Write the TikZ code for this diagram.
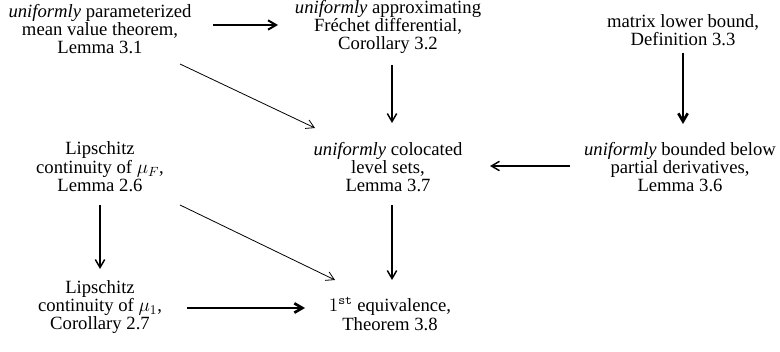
\documentclass[tikz,border=0pt]{standalone}
\usepackage{fontspec}
\setmainfont{Liberation Serif}
\usetikzlibrary{arrows.meta}
\begin{document}
\begin{tikzpicture}[x=0.75pt,y=-0.75pt,
  lbl/.style={align=center,inner sep=0pt,font=\fontsize{14}{13.8}\selectfont},
  arr/.style={-{Straight Barb[length=6pt,width=7pt]}},
  thinarr/.style={arr,line width=0.6pt},
  medarr/.style={arr,line width=1.1pt},
  thickarr/.style={arr,line width=2pt}]
\useasboundingbox (0,0) rectangle (780,352);
\node[lbl] (A) at (100,29) {\textit{uniformly} parameterized\\mean value theorem,\\Lemma 3.1};
\node[lbl] (B) at (388,27) {\textit{uniformly} approximating\\Fréchet differential,\\Corollary 3.2};
\node[lbl] (C) at (683,30) {matrix lower bound,\\Definition 3.3};
\node[lbl] (D) at (100,167) {Lipschitz\\continuity of $\mu_F$,\\Lemma 2.6};
\node[lbl] (E) at (388,167) {\textit{uniformly} colocated\\level sets,\\Lemma 3.7};
\node[lbl] (F) at (680,167) {\textit{uniformly} bounded below\\partial derivatives,\\Lemma 3.6};
\node[lbl] (G) at (100,307) {Lipschitz\\continuity of $\mu_1$,\\Corollary 2.7};
\node[lbl] (H) at (390,314) {$1^{\mathtt{st}}$ equivalence,\\Theorem 3.8};
\draw[medarr,line width=1.5pt] ([shift={(113,-4)}]A.center) -- ([shift={(-110,-2)}]B.center);
\draw[thinarr] ([shift={(80,35)}]A.center) -- ([shift={(-73,-39)}]E.center);
\draw[medarr] ([shift={(4,38)}]B.center) -- ([shift={(4,-44)}]E.center);
\draw[thickarr] ([shift={(0,23)}]C.center) -- ([shift={(3,-43)}]F.center);
\draw[medarr] ([shift={(-110,-1)}]F.center) -- ([shift={(102,-1)}]E.center);
\draw[medarr] ([shift={(0,38)}]D.center) -- ([shift={(0,-38)}]G.center);
\draw[thinarr] ([shift={(80,38)}]D.center) -- ([shift={(-55,-34)}]H.center);
\draw[medarr] ([shift={(4,38)}]E.center) -- ([shift={(2,-34)}]H.center);
\draw[thickarr] ([shift={(87,1)}]G.center) -- ([shift={(-85,-6)}]H.center);
\end{tikzpicture}
\end{document}
